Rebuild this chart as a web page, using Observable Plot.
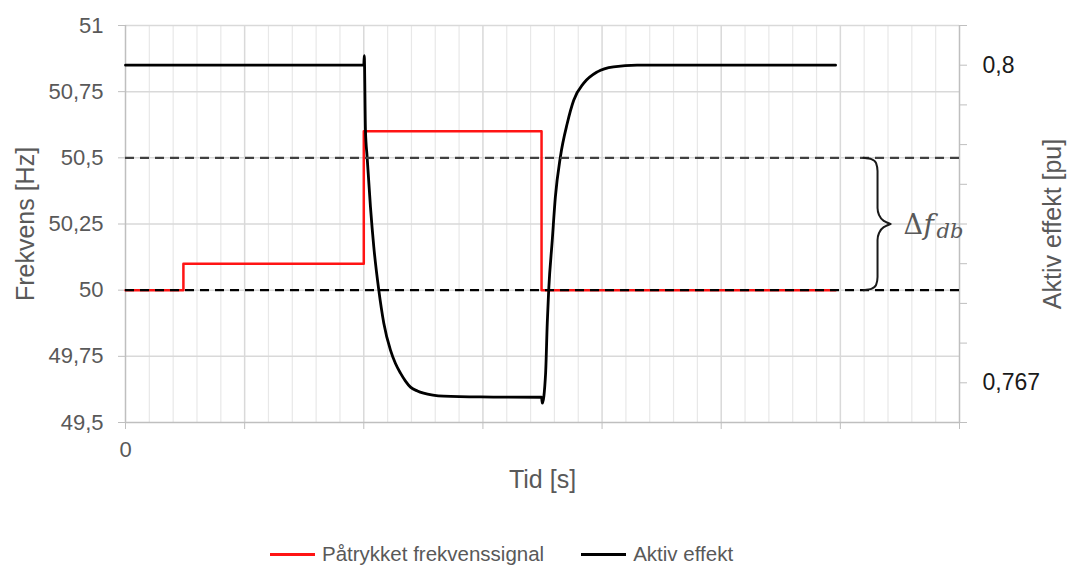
<!DOCTYPE html>
<html><head><meta charset="utf-8">
<script src="https://cdn.jsdelivr.net/npm/d3@7"></script>
<script src="https://cdn.jsdelivr.net/npm/@observablehq/plot@0.6"></script>
<style>
body{margin:0;background:#fff;font-family:"Liberation Sans",Arial,sans-serif;}
#wrap{position:relative;width:1067px;height:568px;overflow:hidden;}
#legend{position:absolute;left:270px;top:542px;display:flex;align-items:center;font-size:20.5px;color:#595959;white-space:nowrap;}
.sw{display:inline-block;width:45px;height:3px;margin-right:7px;}
</style></head><body><div id="wrap"><div id="chart"></div><div id="legend"></div></div>
<script>
// ---- data ----
const seriesNames = ["Påtrykket frekvenssignal", "Aktiv effekt"];
const seriesColors = ["#ff1414", "#000000"];
// red: applied frequency signal (Hz), step-after
const redT = [0, 2.43, 10, 17.46, 29.8];
const redF = [50, 50.1, 50.6, 50, 50];
// black: active power (pu)
const blackT = [0, 10, 10.02, 10.07, 10.14, 10.28, 10.42, 10.63, 10.84, 11.12, 11.33, 11.54, 11.75, 11.96, 12.25, 12.51, 12.9, 13.35, 14.9, 17.46, 17.49, 17.63, 17.70, 17.76, 17.91, 18.04, 18.25, 18.54, 18.81, 19.23, 19.80, 20.48, 21.47, 29.8];
const blackP = [0.8, 0.8, 0.8010, 0.79325, 0.79047, 0.78528, 0.78112, 0.77663, 0.77320, 0.77039, 0.76900, 0.76800, 0.76718, 0.76655, 0.76615, 0.76592, 0.76572, 0.76561, 0.76553, 0.7655, 0.76488, 0.76797, 0.77320, 0.77663, 0.78182, 0.78632, 0.79047, 0.79397, 0.79636, 0.79813, 0.79931, 0.79983, 0.8, 0.8];
// axes
const xDomain = [0, 35];
const xMajor = [0, 5, 10, 15, 20, 25, 30, 35];
const xLabels = {0: "0"};
const yDomain = [49.5, 51];
const yTicks = [49.5, 49.75, 50, 50.25, 50.5, 50.75, 51];
const pDomain = [0.762875, 0.804125];
const pTickCount = 11;
const pLabels = [[0.767, "0,767"], [0.8, "0,8"]];
// dead-band lines and annotation
const deadBand = [50.5, 50];
const deadBandColors = ["#404040", "#000000"];
const braceTop = [[50.5, 30.97],[50.495,31.3],[50.48,31.5],[50.45,31.56],[50.31,31.56],[50.285,31.62],[50.262,31.82],[50.25,32.1]];
const braceBottom = [[50.25,32.1],[50.238,31.82],[50.215,31.62],[50.19,31.56],[50.05,31.56],[50.02,31.5],[50.005,31.3],[50,30.97]];
const annX = 32.65, annY = 50.25;

// ---- helpers ----
const toHz = p => yDomain[0] + (p - pDomain[0]) / (pDomain[1] - pDomain[0]) * (yDomain[1] - yDomain[0]);
const red = redT.map((t, i) => ({t, v: redF[i]}));
const black = blackT.map((t, i) => ({t, v: toHz(blackP[i])}));
const pStep = (pDomain[1] - pDomain[0]) / (pTickCount - 1);
const rightTicks = d3.range(pTickCount).map(k => toHz(pDomain[0] + k * pStep));
const rightLabelMap = new Map(pLabels.map(([p, l]) => [toHz(p).toFixed(4), l]));
const minor = d3.range(xDomain[0], xDomain[1] + 1).filter(v => v % 5 !== 0);
const brace = [...braceTop.map(([y, x]) => ({x, y, h: "a"})), ...braceBottom.map(([y, x]) => ({x, y, h: "b"}))];

const chart = Plot.plot({
  width: 1067, height: 530,
  marginLeft: 125, marginRight: 108, marginTop: 25, marginBottom: 108,
  x: {domain: xDomain}, y: {domain: yDomain},
  style: {fontFamily: "'Liberation Sans', Arial, sans-serif", fontSize: "22px", color: "#595959", background: "white"},
  marks: [
    Plot.ruleX(minor, {stroke: "#e8e8e8", strokeWidth: 1.2}),
    Plot.ruleX(xMajor.slice(1, -1), {stroke: "#d9d9d9", strokeWidth: 1.5}),
    Plot.ruleY(yTicks.slice(1), {stroke: "#d9d9d9", strokeWidth: 1.5}),
    Plot.ruleX([xDomain[0], xDomain[1]], {stroke: "#bfbfbf", strokeWidth: 1.5}),
    Plot.ruleY([yDomain[0]], {stroke: "#bfbfbf", strokeWidth: 1.5}),
    Plot.axisY({ticks: yTicks, tickFormat: d => String(d).replace(".", ","), tickSize: 7, tickPadding: 15, stroke: "#bfbfbf", fill: "#595959", fontSize: 22, label: null}),
    Plot.axisX({ticks: xMajor, tickFormat: d => xLabels[d] ?? "", tickSize: 7, tickPadding: 12, stroke: "#bfbfbf", fill: "#595959", fontSize: 22, label: null}),
    Plot.axisY({anchor: "right", ticks: rightTicks, tickFormat: d => rightLabelMap.get(d.toFixed(4)) ?? "", tickSize: 7, tickPadding: 16, stroke: "#bfbfbf", fill: "#1a1a1a", fontSize: 23, label: null}),
    Plot.line(red, {x: "t", y: "v", curve: "step-after", stroke: seriesColors[0], strokeWidth: 2.5}),
    Plot.line(black, {x: "t", y: "v", curve: "monotone-x", stroke: seriesColors[1], strokeWidth: 2.8}),
    Plot.ruleY(deadBand, {x1: xDomain[0], x2: xDomain[1], stroke: (d, i) => deadBandColors[i], strokeWidth: 2.2, strokeDasharray: "9,6"}),
    Plot.line(brace, {x: "x", y: "y", z: "h", curve: "monotone-y", stroke: "#1a1a1a", strokeWidth: 2}),
    Plot.text(["Δ"], {x: annX, y: annY, text: d => d, textAnchor: "start", fontSize: 27, fill: "#595959", fontFamily: "'DejaVu Serif', serif", dy: 1}),
    Plot.text(["f"], {x: annX, y: annY, text: d => d, textAnchor: "start", fontSize: 28, fill: "#595959", fontFamily: "'DejaVu Serif', serif", fontStyle: "italic", dx: 20, dy: 1}),
    Plot.text(["db"], {x: annX, y: annY, text: d => d, textAnchor: "start", fontSize: 21, fill: "#595959", fontFamily: "'DejaVu Serif', serif", fontStyle: "italic", dx: 33, dy: 7}),
    Plot.text(["Frekvens [Hz]"], {frameAnchor: "left", text: d => d, textAnchor: "middle", dx: -100, rotate: -90, fontSize: 25, fill: "#595959"}),
    Plot.text(["Aktiv effekt [pu]"], {frameAnchor: "right", text: d => d, textAnchor: "middle", dx: 93, rotate: -90, fontSize: 25, fill: "#595959"}),
    Plot.text(["Tid [s]"], {frameAnchor: "bottom", text: d => d, dy: 65, fontSize: 25, fill: "#595959"})
  ]
});
document.getElementById("chart").appendChild(chart);

const legend = document.getElementById("legend");
seriesNames.forEach((n, i) => {
  const item = document.createElement("span");
  item.style.display = "flex"; item.style.alignItems = "center";
  if (i > 0) item.style.marginLeft = "37px";
  item.innerHTML = `<span class="sw" style="background:${seriesColors[i]}"></span><span>${n}</span>`;
  legend.appendChild(item);
});
</script>
</body></html>
